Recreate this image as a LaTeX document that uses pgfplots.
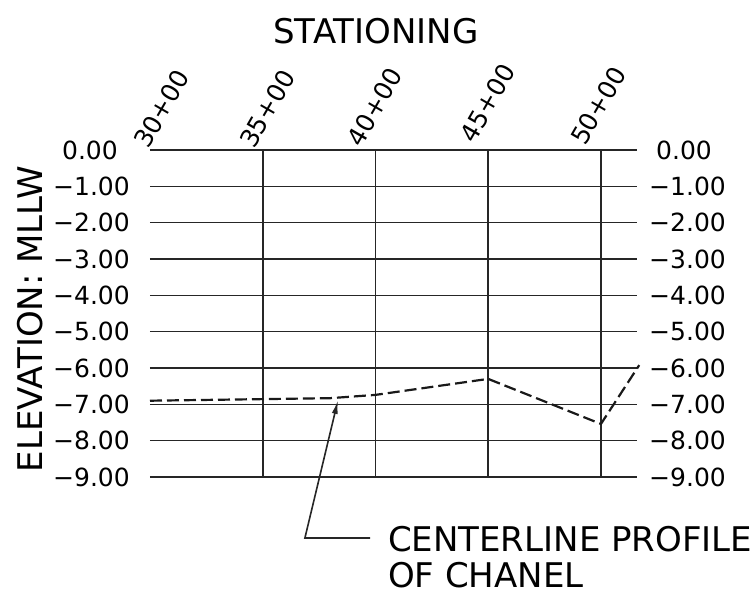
\documentclass[border=0pt]{standalone}
\usepackage{fontspec}
\setmainfont{DejaVu Sans}
\usepackage{pgfplots}
\pgfplotsset{compat=1.18}
\usetikzlibrary{arrows.meta}
\newcommand{\tickfont}{\fontsize{25}{30}\selectfont}
\newcommand{\bigfont}{\fontsize{34}{40}\selectfont}
\begin{document}
\begin{tikzpicture}[x=1pt,y=1pt]
\path[use as bounding box] (-150,-120) rectangle (604,477);
\begin{axis}[
  at={(0,0)}, anchor=south west,
  scale only axis, width=487pt, height=327pt,
  xmin=30, xmax=51.6, ymin=-9, ymax=0,
  clip=false,
  axis line style={draw=none},
  tick style={draw=none}, major tick length=0pt,
  xtick={35,40,45,50}, xticklabels={},
  ytick={-9,-8,-7,-6,-5,-4,-3,-2,-1,0},
  yticklabels={−9.00,−8.00,−7.00,−6.00,−5.00,−4.00,−3.00,−2.00,−1.00,0.00\hspace*{12pt}},
  yticklabel style={font=\tickfont, anchor=east, inner sep=0pt},
  yticklabel shift=20pt,
  grid=major,
  grid style={black!85, line width=1.6pt},
  title={STATIONING},
  title style={at={(axis description cs:0.464,1.3456)}, anchor=center, font=\bigfont},
  ylabel={ELEVATION: MLLW},
  ylabel style={at={(axis description cs:-0.247,0.483)}, anchor=center, font=\bigfont},
]
\addplot[black!90, line width=2.2pt, dash pattern=on 12pt off 5pt] coordinates {
  (30,-6.90) (38,-6.83) (40,-6.74) (45,-6.30) (50,-7.54) (51.7,-5.92)
};
\node[rotate=60, anchor=base west, font=\tickfont, inner sep=0pt] at (axis cs:29.91,0.00) {30+00};
\node[rotate=60, anchor=base west, font=\tickfont, inner sep=0pt] at (axis cs:34.61,0.00) {35+00};
\node[rotate=60, anchor=base west, font=\tickfont, inner sep=0pt] at (axis cs:39.36,0.05) {40+00};
\node[rotate=60, anchor=base west, font=\tickfont, inner sep=0pt] at (axis cs:44.37,0.16) {45+00};
\node[rotate=60, anchor=base west, font=\tickfont, inner sep=0pt] at (axis cs:49.29,0.08) {50+00};
\draw[black!85, line width=1.6pt, -{Latex[length=14pt,width=6pt]}]
  (axis cs:39.76,-10.68) -- (axis cs:36.87,-10.68) -- (axis cs:38.34,-6.88);
\node[anchor=base west, font=\bigfont, inner sep=0pt] at (axis cs:40.55,-11.05) {CENTERLINE PROFILE};
\node[anchor=base west, font=\bigfont, inner sep=0pt] at (axis cs:40.55,-12.04) {OF CHANEL};
\end{axis}
\begin{axis}[
  at={(0,0)}, anchor=south west,
  scale only axis, width=487pt, height=327pt,
  xmin=30, xmax=51.6, ymin=-9, ymax=0,
  axis line style={draw=none},
  tick style={draw=none}, major tick length=0pt,
  xtick=\empty,
  yticklabel pos=right,
  ytick={-9,-8,-7,-6,-5,-4,-3,-2,-1,0},
  yticklabels={−9.00,−8.00,−7.00,−6.00,−5.00,−4.00,−3.00,−2.00,−1.00,\hspace*{7pt}0.00},
  yticklabel style={font=\tickfont, anchor=west, inner sep=0pt},
  yticklabel shift=12pt,
]
\end{axis}
\end{tikzpicture}
\end{document}
